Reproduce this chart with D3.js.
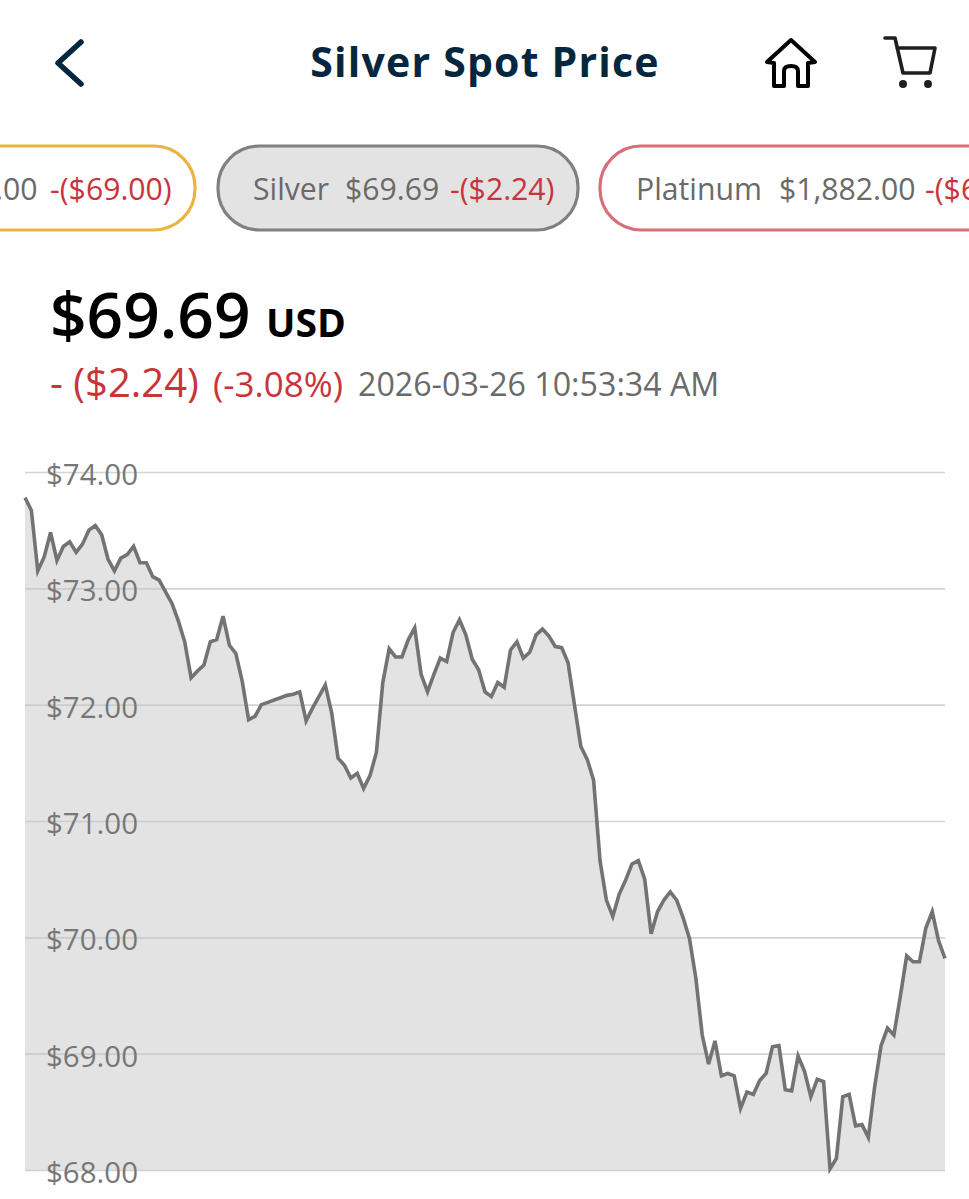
<!DOCTYPE html>
<html>
<head>
<meta charset="utf-8">
<script src="https://d3js.org/d3.v7.min.js"></script>
<style>
	body { margin: 0; background: #fff; }
	text { font-family: "Open Sans", sans-serif; }
</style>
</head>
<body>
<svg id="vis"></svg>
<script>
	const prices = [
		73.78, 73.67, 73.15, 73.27, 73.48, 73.24, 73.36, 73.40, 73.31, 73.38,
		73.50, 73.54, 73.46, 73.25, 73.15, 73.26, 73.29, 73.36, 73.22, 73.22,
		73.10, 73.07, 72.97, 72.87, 72.72, 72.54, 72.23, 72.29, 72.34, 72.54,
		72.56, 72.76, 72.51, 72.44, 72.20, 71.87, 71.90, 72.00, 72.02, 72.04,
		72.06, 72.08, 72.09, 72.11, 71.86, 71.97, 72.07, 72.17, 71.93, 71.54,
		71.48, 71.37, 71.41, 71.28, 71.39, 71.59, 72.19, 72.48, 72.41, 72.41,
		72.56, 72.66, 72.26, 72.11, 72.26, 72.40, 72.37, 72.62, 72.73, 72.60,
		72.39, 72.30, 72.11, 72.07, 72.19, 72.15, 72.47, 72.54, 72.40, 72.45,
		72.60, 72.65, 72.59, 72.50, 72.49, 72.36, 72.00, 71.64, 71.53, 71.35,
		70.66, 70.32, 70.18, 70.37, 70.49, 70.63, 70.66, 70.50, 70.03, 70.22,
		70.32, 70.39, 70.32, 70.17, 69.99, 69.65, 69.16, 68.91, 69.11, 68.81,
		68.83, 68.81, 68.53, 68.67, 68.65, 68.77, 68.83, 69.06, 69.07, 68.69,
		68.68, 68.98, 68.85, 68.63, 68.78, 68.76, 68.01, 68.10, 68.63, 68.65,
		68.38, 68.39, 68.28, 68.72, 69.07, 69.22, 69.16, 69.49, 69.84, 69.79,
		69.79, 70.08, 70.22, 69.97, 69.82
	];
	const yTicks = [68, 69, 70, 71, 72, 73, 74];

	// the outer pills are cut by the screen edge, only the visible part is known
	const pillLabels = ["", "Silver", "Platinum"];
	const pillPrices = [".00", "$69.69", "$1,882.00"];
	const pillChanges = ["-($69.00)", "-($2.24)", "-($6"];

	const width = 969, height = 1199;
	const plotLeft = 25, plotRight = 945, plotTop = 472, plotBottom = 1170;

	const red = "#c9343b", grey = "#6a6a6a", navy = "#04273f";

	const svg = d3.select("#vis").attr("width", width).attr("height", height).style("display", "block");

	// Header
	svg.append("path")
		.attr("d", "M81,42 L58,63 L81,84")
		.attr("fill", "none").attr("stroke", navy).attr("stroke-width", 5.5)
		.attr("stroke-linecap", "round").attr("stroke-linejoin", "round");

	svg.append("text").attr("x", 485).attr("y", 77).attr("text-anchor", "middle")
		.attr("font-size", 41).attr("font-weight", 700).attr("fill", navy)
		.attr("letter-spacing", 1.2).text("Silver Spot Price");

	// home icon
	svg.append("path")
		.attr("d", "M767,62 L791,40 L815,62 L808,63 L808,86 L798,86 L798,71 Q798,66 791,66 Q784,66 784,71 L784,86 L774,86 L774,63 Z")
		.attr("fill", "none").attr("stroke", "#000").attr("stroke-width", 4).attr("stroke-linejoin", "round");

	// cart icon
	svg.append("path")
		.attr("d", "M885,38 L895,38 L903,73 L930,73 L935,48 L897,48")
		.attr("fill", "none").attr("stroke", "#1f1f1f").attr("stroke-width", 3.6)
		.attr("stroke-linecap", "round").attr("stroke-linejoin", "round");
	svg.selectAll(".wheel").data([903, 928]).enter().append("circle")
		.attr("class", "wheel").attr("cx", d => d).attr("cy", 84).attr("r", 4).attr("fill", "#1f1f1f");

	// Metal pills, scrolled so the neighbours run off the screen
	const pillBox = [
		{ x: -200, w: 395, stroke: "#e9b441", fill: "#fff", tx: [2, -5, 50] },
		{ x: 218, w: 360, stroke: "#808080", fill: "#e3e3e3", tx: [253, 345, 450] },
		{ x: 600, w: 560, stroke: "#d66f7a", fill: "#fff", tx: [636, 779, 925] }
	];
	pillBox.forEach((b, i) => {
		svg.append("rect").attr("x", b.x).attr("y", 146).attr("width", b.w).attr("height", 84)
			.attr("rx", 41).attr("fill", b.fill).attr("stroke", b.stroke).attr("stroke-width", 3.2);
		[pillLabels[i], pillPrices[i], pillChanges[i]].forEach((t, j) => {
			if (!t) return;
			svg.append("text").attr("x", b.tx[j]).attr("y", 200).attr("font-size", 30.2)
				.attr("font-weight", 500).attr("fill", j == 2 ? red : grey).text(t);
		});
	});

	// Price block
	svg.append("text").attr("x", 50).attr("y", 338).attr("font-size", 64).attr("font-weight", 600).attr("fill", "#000").text("$69.69");
	svg.append("text").attr("x", 266).attr("y", 337).attr("font-size", 39).attr("font-weight", 700).attr("fill", "#000").text("USD");
	svg.append("text").attr("x", 50).attr("y", 397).attr("font-size", 40).attr("font-weight", 500).attr("fill", red).text("- ($2.24)");
	svg.append("text").attr("x", 213).attr("y", 397).attr("font-size", 35).attr("font-weight", 500).attr("fill", red).text("(-3.08%)");
	svg.append("text").attr("x", 358).attr("y", 396).attr("font-size", 32.2).attr("fill", grey).text("2026-03-26 10:53:34 AM");

	// Chart
	const x = d3.scaleLinear().domain([0, prices.length - 1]).range([plotLeft, plotRight]);
	const y = d3.scaleLinear().domain([68, 74]).range([plotBottom, plotTop]);

	const area = d3.area().x((d, i) => x(i)).y0(plotBottom).y1(d => y(d));
	const line = d3.line().x((d, i) => x(i)).y(d => y(d));

	svg.append("path").datum(prices).attr("d", area).attr("fill", "#e3e3e3");

	const axis = svg.append("g")
		.attr("transform", `translate(${plotLeft},0)`)
		.call(d3.axisRight(y).tickValues(yTicks).tickSize(plotRight - plotLeft).tickFormat(d => "$" + d3.format(".2f")(d)));
	axis.select(".domain").remove();
	axis.selectAll("line").attr("stroke", "#c4c4c4").attr("stroke-opacity", 0.75).attr("stroke-width", 1.6);
	axis.selectAll("text")
		.attr("x", 21).attr("dy", "0.42em")
		.attr("text-anchor", "start")
		.attr("font-size", 29.5).attr("fill", "#777")
		.style("font-family", '"Open Sans", sans-serif');

	svg.append("path").datum(prices).attr("d", line)
		.attr("fill", "none").attr("stroke", "#737373").attr("stroke-width", 3.6).attr("stroke-linejoin", "miter");
</script>
</body>
</html>
